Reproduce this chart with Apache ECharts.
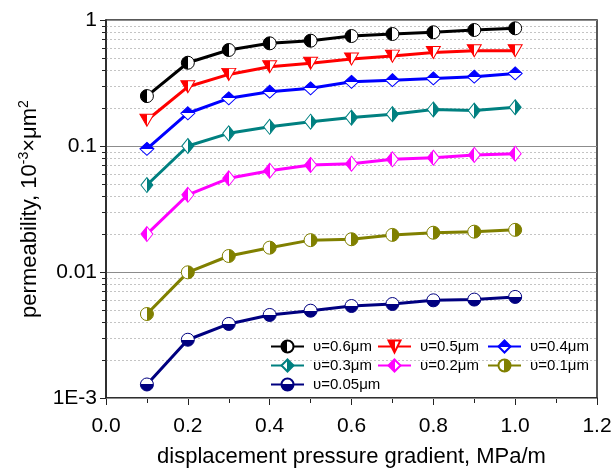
<!DOCTYPE html>
<html>
<head>
<meta charset="utf-8">
<script src="https://cdn.jsdelivr.net/npm/echarts@6/dist/echarts.min.js"></script>
<style>
  html, body { margin: 0; padding: 0; background: #fff; }
  #chart { width: 612px; height: 469px; }
</style>
</head>
<body>
<div id="chart"></div>
<script>
// Displacement pressure gradient, MPa/m
const gradient = [0.1, 0.2, 0.3, 0.4, 0.5, 0.6, 0.7, 0.8, 0.9, 1.0];

// Permeability (10^-3 μm^2) for each pore-throat radius
const perm060 = [0.249, 0.458, 0.578, 0.653, 0.685, 0.746, 0.774, 0.799, 0.833, 0.859];
const perm050 = [0.160, 0.295, 0.370, 0.425, 0.453, 0.490, 0.517, 0.553, 0.570, 0.570];
const perm040 = [0.095, 0.182, 0.239, 0.270, 0.287, 0.323, 0.333, 0.344, 0.355, 0.377];
const perm030 = [0.049, 0.100, 0.126, 0.142, 0.156, 0.168, 0.179, 0.195, 0.191, 0.203];
const perm020 = [0.020, 0.041, 0.0554, 0.0637, 0.0707, 0.0724, 0.0784, 0.0807, 0.0849, 0.0869];
const perm010 = [0.00464, 0.00994, 0.0134, 0.0156, 0.0179, 0.0182, 0.0197, 0.0205, 0.0209, 0.0216];
const perm005 = [0.00128, 0.0029, 0.00387, 0.00456, 0.00493, 0.00537, 0.00557, 0.00596, 0.00604, 0.00634];

const seriesNames = ['υ=0.6μm', 'υ=0.5μm', 'υ=0.4μm', 'υ=0.3μm', 'υ=0.2μm', 'υ=0.1μm', 'υ=0.05μm'];
const xTickLabels = ['0.0', '0.2', '0.4', '0.6', '0.8', '1.0', '1.2'];
const yTickLabels = { 0.001: '1E-3', 0.01: '0.01', 0.1: '0.1', 1: '1' };

// minor log positions 2..9 within each decade
const minorValues = [];
[0.001, 0.01, 0.1].forEach(function (d) {
  for (let k = 2; k <= 9; k++) minorValues.push(+(d * k).toPrecision(3));
});

const FONT = 'Arial, "Liberation Sans", sans-serif';

// half-filled marker: hard-stop linear gradient, coloured half + white half
function halfFill(color, side) {
  const dir = {
    left:   [0, 0, 1, 0],
    right:  [1, 0, 0, 0],
    top:    [0, 0, 0, 1],
    bottom: [0, 1, 0, 0]
  }[side];
  return new echarts.graphic.LinearGradient(dir[0], dir[1], dir[2], dir[3], [
    { offset: 0, color: color },
    { offset: 0.5, color: color },
    { offset: 0.5, color: '#ffffff' },
    { offset: 1, color: '#ffffff' }
  ]);
}

const TRI_DOWN = 'path://M0,0L14,0L7,12Z';

const styles = [
  { data: perm060, color: '#000000', symbol: 'circle',  size: 13,       side: 'left' },
  { data: perm050, color: '#ff0000', symbol: TRI_DOWN,  size: [14, 12], side: 'left' },
  { data: perm040, color: '#0000ff', symbol: 'diamond', size: [14, 13], side: 'top' },
  { data: perm030, color: '#008080', symbol: 'diamond', size: [12, 15], side: 'right' },
  { data: perm020, color: '#ff00ff', symbol: 'diamond', size: [12, 15], side: 'left' },
  { data: perm010, color: '#808000', symbol: 'circle',  size: 13,       side: 'right' },
  { data: perm005, color: '#000080', symbol: 'circle',  size: 13,       side: 'bottom' }
];

const series = styles.map(function (s, i) {
  return {
    name: seriesNames[i],
    type: 'line',
    xAxisIndex: 0,
    yAxisIndex: 0,
    data: gradient.map(function (x, j) { return [x, s.data[j]]; }),
    symbol: s.symbol,
    symbolSize: s.size,
    showAllSymbol: true,
    lineStyle: { color: s.color, width: 3 },
    itemStyle: { color: halfFill(s.color, s.side), borderColor: s.color, borderWidth: 1 },
    emphasis: { disabled: true },
    animation: false,
    z: 3
  };
});

function legendColumn(left, names) {
  return {
    orient: 'vertical',
    left: left,
    top: 339,
    itemWidth: 33,
    itemHeight: 15,
    itemGap: 4,
    padding: 0,
    data: names,
    textStyle: { fontFamily: FONT, fontSize: 15, color: '#000', padding: [0, 0, 0, 4] },
    selectedMode: false
  };
}

const chart = echarts.init(document.getElementById('chart'), null, { renderer: 'canvas' });

chart.setOption({
  backgroundColor: '#ffffff',
  animation: false,
  grid: {
    left: 106, right: 15, top: 20, bottom: 71,
    outerBoundsMode: 'none',
    containLabel: false,
    show: true, borderColor: '#222', borderWidth: 1.5, backgroundColor: 'transparent'
  },
  legend: [
    legendColumn(270, [seriesNames[0], seriesNames[3], seriesNames[6]]),
    legendColumn(377, [seriesNames[1], seriesNames[4]]),
    legendColumn(487, [seriesNames[2], seriesNames[5]])
  ],
  xAxis: {
    type: 'value',
    min: 0, max: 1.2, interval: 0.2,
    name: 'displacement pressure gradient, MPa/m',
    nameLocation: 'middle',
    nameGap: 48,
    nameTextStyle: { fontFamily: FONT, fontSize: 22, color: '#000' },
    axisLine: { onZero: false, lineStyle: { color: '#222', width: 1.5 } },
    axisTick: { show: true, length: 7, lineStyle: { color: '#222', width: 1 } },
    minorTick: { show: true, splitNumber: 2, length: 5, lineStyle: { color: '#222', width: 1 } },
    axisLabel: {
      fontFamily: FONT, fontSize: 21, color: '#000', margin: 18,
      formatter: function (v) { return xTickLabels[Math.round(v / 0.2)]; }
    },
    splitLine: { show: false }
  },
  yAxis: [
    {
      type: 'log',
      logBase: 10,
      min: 0.001, max: 1,
      name: 'permeability, 10{sup|-3}×μm{sup|2}',
      nameLocation: 'middle',
      nameGap: 64,
      nameTextStyle: {
        fontFamily: FONT, fontSize: 22, color: '#000',
        rich: { sup: { fontFamily: FONT, fontSize: 14, color: '#000', verticalAlign: 'top', padding: [0, 0, 11, 0] } }
      },
      axisLine: { show: true, lineStyle: { color: '#222', width: 1.5 } },
      axisTick: { show: true, length: 6, lineStyle: { color: '#222', width: 1 } },
      axisLabel: {
        fontFamily: FONT, fontSize: 21, color: '#000', margin: 9,
        formatter: function (v) {
          const key = +(+v).toPrecision(3);
          return yTickLabels[key] !== undefined ? yTickLabels[key] : '';
        }
      },
      splitLine: { show: true, lineStyle: { color: '#8c8c8c', width: 1, type: 'solid' } },
      z: 2
    },
    {
      type: 'log',
      logBase: 10,
      min: 0.001, max: 1,
      position: 'left',
      axisLine: { show: false },
      axisTick: { show: true, length: 4, customValues: minorValues, lineStyle: { color: '#222', width: 1 } },
      axisLabel: { show: false },
      splitLine: { show: true, lineStyle: { color: '#c4c4c4', width: 1, type: [2, 2] } },
      z: 1
    }
  ],
  series: series
});
</script>
</body>
</html>
